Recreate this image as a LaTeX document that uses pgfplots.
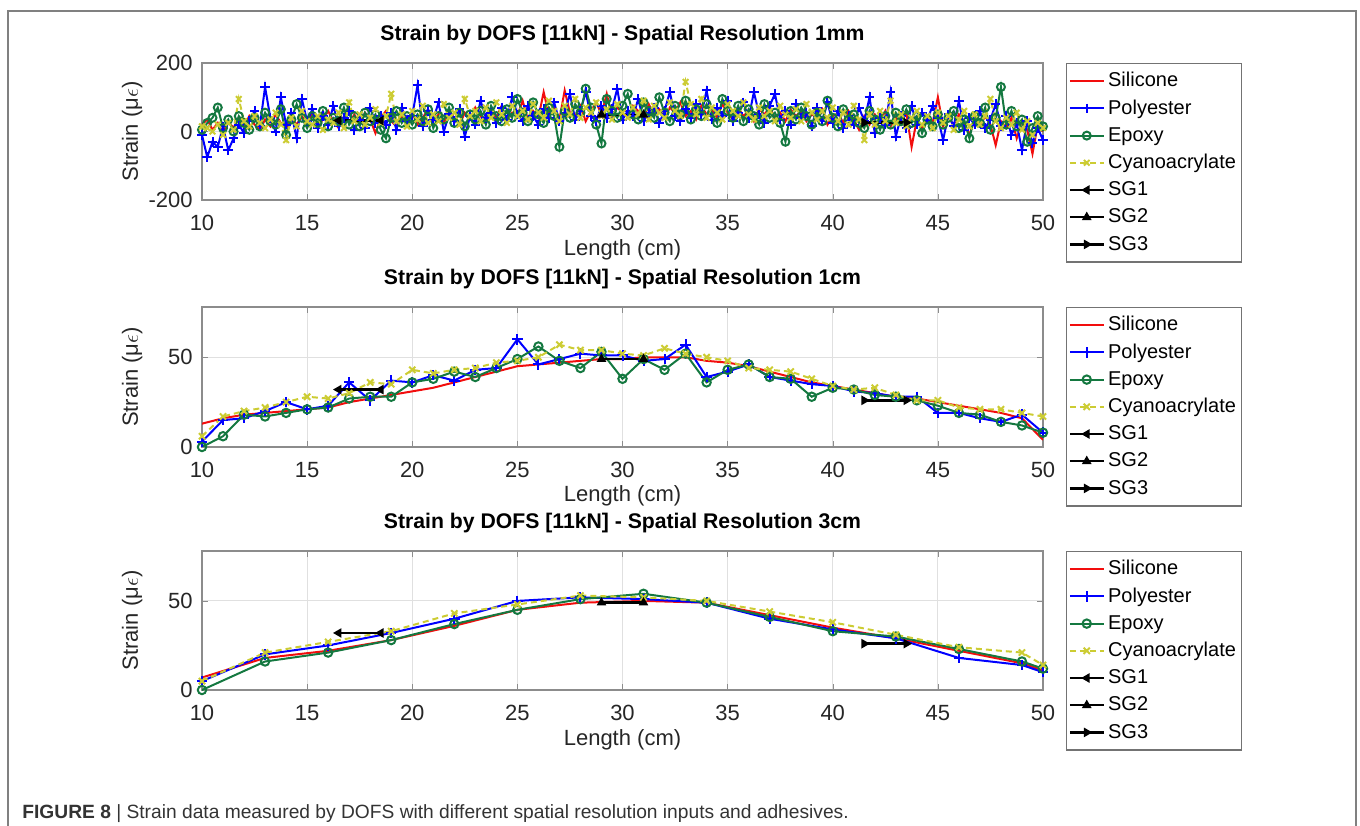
\documentclass[border=0pt]{standalone}
\usepackage{pgfplots}
\pgfplotsset{compat=1.18}
\usepackage{pgfplotstable}
\usepackage{fontspec}
\setmainfont{Liberation Sans}

\definecolor{csil}{rgb}{0.95,0.05,0.05}
\definecolor{cpol}{rgb}{0,0,1}
\definecolor{cepo}{rgb}{0.08,0.47,0.25}
\definecolor{ccya}{rgb}{0.80,0.80,0.20}
\definecolor{frm}{rgb}{0.50,0.50,0.50}

% 1mm resolution (read coarsely off the picture, every 2.5 mm)
\pgfplotstableread{
x s p e c
10.00 20 -10 5 15
10.25 35 -75 25 10
10.50 5 -30 40 0
10.75 25 -45 70 20
11.00 -5 15 10 -10
11.25 30 -55 35 25
11.50 10 -20 0 5
11.75 40 20 45 95
12.00 15 -5 25 30
12.25 45 30 5 15
12.50 20 60 40 45
12.75 5 15 15 25
13.00 35 130 55 10
13.25 15 40 30 35
13.50 50 0 20 55
13.75 25 100 65 20
14.00 10 20 -10 -25
14.25 40 55 35 40
14.50 20 -20 80 15
14.75 45 95 40 60
15.00 25 30 10 30
15.25 55 65 45 20
15.50 15 10 25 45
15.75 35 45 60 5
16.00 60 20 15 35
16.25 30 75 40 25
16.50 10 15 30 55
16.75 45 40 70 10
17.00 25 60 20 85
17.25 50 5 45 30
17.50 20 35 15 50
17.75 55 10 55 20
18.00 35 70 30 40
18.25 -5 25 50 65
18.50 40 45 5 25
18.75 60 20 -20 45
19.00 30 55 40 110
19.25 15 5 60 30
19.50 45 70 25 50
19.75 35 30 45 15
20.00 55 45 20 60
20.25 20 135 50 35
20.50 40 15 30 75
20.75 65 60 65 25
21.00 30 35 10 50
21.25 50 85 45 30
21.50 25 0 35 80
21.75 60 50 70 40
22.00 40 30 25 55
22.25 20 65 55 20
22.50 55 -15 15 95
22.75 35 45 50 45
23.00 70 20 35 60
23.25 45 90 60 30
23.50 25 40 20 70
23.75 60 55 75 40
24.00 40 25 45 85
24.25 75 70 30 50
24.50 30 35 65 25
24.75 55 100 40 75
25.00 45 50 95 45
25.25 90 30 55 60
25.50 35 75 30 35
25.75 60 45 85 80
26.00 40 20 50 55
26.25 115 65 25 40
26.50 50 40 70 90
26.75 70 85 45 60
27.00 35 30 -45 30
27.25 120 55 60 75
27.50 55 110 40 50
27.75 45 35 80 95
28.00 75 60 55 40
28.25 30 115 125 70
28.50 60 45 70 55
28.75 85 30 20 85
29.00 50 75 -35 45
29.25 110 40 95 65
29.50 45 65 60 35
29.75 70 125 40 80
30.00 55 35 75 55
30.25 40 60 110 40
30.50 75 45 50 70
30.75 60 95 35 50
31.00 35 30 85 90
31.25 80 55 60 35
31.50 50 70 40 75
31.75 65 25 100 55
32.00 40 60 55 40
32.25 70 115 30 85
32.50 55 45 75 60
32.75 85 30 50 45
33.00 45 65 90 145
33.25 60 40 35 80
33.50 35 80 65 50
33.75 75 50 45 95
34.00 50 120 80 40
34.25 65 35 55 70
34.50 40 70 25 55
34.75 80 45 95 35
35.00 55 90 60 80
35.25 35 30 40 60
35.50 70 55 75 45
35.75 45 85 30 85
36.00 60 40 65 50
36.25 30 115 45 35
36.50 65 50 20 70
36.75 50 25 80 45
37.00 70 75 40 60
37.25 40 110 55 30
37.50 55 35 25 75
37.75 30 60 -30 50
38.00 65 20 60 40
38.25 45 80 35 65
38.50 60 40 70 30
38.75 30 55 45 80
39.00 50 15 20 55
39.25 40 70 55 35
39.50 65 30 30 60
39.75 20 85 90 40
40.00 45 25 40 70
40.25 55 60 15 30
40.50 25 10 65 55
40.75 60 45 35 20
41.00 35 20 50 75
41.25 5 70 25 35
41.50 45 30 10 -25
41.75 20 100 60 50
42.00 50 -5 35 20
42.25 30 40 5 60
42.50 60 20 45 30
42.75 15 115 20 90
43.00 40 -15 55 25
43.25 25 45 30 50
43.50 55 10 65 15
43.75 -45 75 25 40
44.00 35 20 45 60
44.25 10 55 -5 20
44.50 45 35 35 45
44.75 25 75 15 10
45.00 100 40 50 55
45.25 15 -25 20 25
45.50 40 50 40 45
45.75 20 15 60 5
46.00 50 90 10 35
46.25 25 5 35 60
46.50 -10 40 -20 15
46.75 35 20 45 50
47.00 15 60 25 20
47.25 45 10 70 45
47.50 20 35 5 95
47.75 -40 80 40 30
48.00 30 15 130 10
48.25 10 45 20 40
48.50 40 -10 60 20
48.75 -20 25 15 55
49.00 25 -55 35 5
49.25 5 30 -30 30
49.50 -65 -35 10 -10
49.75 20 10 45 25
50.00 0 -25 15 10
}\mmdata

% 1cm resolution
\pgfplotstableread{
x s p e c
10 13 3 0 6
11 16 15 6 17
12 18 16 18 20
13 19 20 17 22
14 20 25 19 25
15 21 21 21 28
16 22 23 22 27
17 25 36 27 30
18 27 26 28 36
19 29 37 28 35
20 31 36 36 43
21 33 40 38 41
22 36 37 42 43
23 39 43 39 44
24 42 44 44 47
25 45 60 49 48
26 46 46 56 50
27 47 49 48 57
28 48 52 44 54
29 49 51 53 54
30 49 51 38 52
31 50 48 49 51
32 50 49 43 55
33 50 57 52 52
34 48 39 36 50
35 47 42 43 48
36 45 46 46 44
37 42 39 39 43
38 39 37 38 42
39 36 35 28 38
40 34 34 33 34
41 32 31 32 32
42 30 30 29 33
43 28 28 28 29
44 27 28 26 26
45 25 19 23 26
46 23 19 19 22
47 21 16 18 21
48 19 14 14 21
49 16 18 12 19
50 4 8 8 17
}\cmdata

% 3cm resolution
\pgfplotstableread{
x s p e c
10 7 5 0 5
13 18 20 16 21
16 22 25 21 27
19 28 32 28 33
22 36 40 37 43
25 45 50 45 48
28 49 52 51 53
31 50 51 54 52
34 49 49 49 50
37 42 40 41 44
40 35 34 33 38
43 29 29 30 31
46 22 18 23 24
49 15 14 16 21
50 11 10 12 14
}\tcmdata

\pgfplotsset{
  dofs/.style={
    scale only axis, width=420.5pt,
    xmin=10, xmax=50, xtick={10,15,...,50},
    grid=major, major grid style={black!12, line width=0.5pt},
    axis line style={black!45, line width=0.7pt},
    tick style={black!45}, major tick length=3pt,
    tick align=inside,
    /pgf/number format/assume math mode=true,
    ticklabel style={font=\fontsize{11pt}{13pt}\selectfont, text=black!85},
    xticklabel style={inner sep=0pt, yshift=-7.5pt},
    yticklabel style={inner sep=0pt, xshift=-4.5pt},
    xlabel={Length (cm)},
    xlabel style={font=\fontsize{11pt}{13pt}\selectfont, text=black!85,
      at={(axis description cs:0.5,0)}, anchor=base, yshift=-27.5pt},
    ylabel={Strain (μ$\epsilon$)},
    ylabel style={font=\fontsize{11pt}{13pt}\selectfont, text=black!85,
      at={(axis description cs:-0.083,0.5)}, anchor=center},
    title style={font=\bfseries\fontsize{10.6pt}{12pt}\selectfont,
      at={(axis description cs:0.5,1)}, anchor=base, yshift=5.5pt},
    legend style={at={(axis description cs:1.0273,1)}, anchor=north west,
      draw=black!55, line width=0.6pt, inner xsep=1pt, inner ysep=2pt,
      font=\fontsize{10pt}{12pt}\selectfont,
      nodes={text height=8pt, text depth=2.4pt, inner sep=1.6pt}},
    legend cell align=left,
    legend image code/.code={\draw[mark repeat=2, mark phase=2]
      plot coordinates {(0pt,0pt) (8.5pt,0pt) (17pt,0pt)};},
  },
  psil/.style={csil, line width=1pt, no marks},
  ppol/.style={cpol, line width=1pt, mark=+, mark size=2.6pt, mark options={solid, line width=1pt}},
  pepo/.style={cepo, line width=1pt, mark=o, mark size=2.1pt, mark options={solid, line width=1pt}},
  pcya/.style={ccya, line width=1pt, dash pattern=on 3pt off 2pt, mark=x, mark size=2.2pt, mark options={solid, line width=1pt}},
  psg/.style={black, line width=1.2pt, mark size=1.6pt, mark options={solid, fill=black}},
}

\begin{document}
\begin{tikzpicture}
\useasboundingbox (0,0) rectangle (680pt,-412.5pt);
\draw[frm, line width=1pt] (4pt,-420pt) -- (4pt,-5.5pt) -- (678pt,-5.5pt) -- (678pt,-420pt);

\begin{axis}[dofs, at={(101pt,-31.5pt)}, anchor=north west, height=68.5pt,
  ymin=-200, ymax=200, ytick={-200,0,200},
  title={Strain by DOFS [11kN] - Spatial Resolution 1mm}]
\addplot[psil] table[x=x, y=s] {\mmdata};
\addplot[ppol, mark size=2.4pt] table[x=x, y=p] {\mmdata};
\addplot[pepo, mark size=2pt] table[x=x, y=e] {\mmdata};
\addplot[pcya, mark size=2pt] table[x=x, y=c] {\mmdata};
\addplot[psg, mark=triangle*, mark options={rotate=90}] coordinates {(16.5,32) (18.5,32)};
\addplot[psg, mark=triangle*] coordinates {(29,49) (31,49)};
\addplot[psg, mark=triangle*, mark options={rotate=-90}] coordinates {(41.5,26) (43.5,26)};
\legend{Silicone,Polyester,Epoxy,Cyanoacrylate,SG1,SG2,SG3}
\end{axis}

\begin{axis}[dofs, at={(101pt,-153.5pt)}, anchor=north west, height=70pt,
  ymin=0, ymax=78, ytick={0,50},
  title={Strain by DOFS [11kN] - Spatial Resolution 1cm}]
\addplot[psil] table[x=x, y=s] {\cmdata};
\addplot[ppol] table[x=x, y=p] {\cmdata};
\addplot[pepo] table[x=x, y=e] {\cmdata};
\addplot[pcya] table[x=x, y=c] {\cmdata};
\addplot[psg, mark=triangle*, mark options={rotate=90}] coordinates {(16.5,32) (18.5,32)};
\addplot[psg, mark=triangle*] coordinates {(29,49) (31,49)};
\addplot[psg, mark=triangle*, mark options={rotate=-90}] coordinates {(41.5,26) (43.5,26)};
\legend{Silicone,Polyester,Epoxy,Cyanoacrylate,SG1,SG2,SG3}
\end{axis}

\begin{axis}[dofs, at={(101pt,-275.5pt)}, anchor=north west, height=69.5pt,
  ymin=0, ymax=78, ytick={0,50},
  title={Strain by DOFS [11kN] - Spatial Resolution 3cm}]
\addplot[psil] table[x=x, y=s] {\tcmdata};
\addplot[ppol] table[x=x, y=p] {\tcmdata};
\addplot[pepo] table[x=x, y=e] {\tcmdata};
\addplot[pcya] table[x=x, y=c] {\tcmdata};
\addplot[psg, mark=triangle*, mark options={rotate=90}] coordinates {(16.5,32) (18.5,32)};
\addplot[psg, mark=triangle*] coordinates {(29,49) (31,49)};
\addplot[psg, mark=triangle*, mark options={rotate=-90}] coordinates {(41.5,26) (43.5,26)};
\legend{Silicone,Polyester,Epoxy,Cyanoacrylate,SG1,SG2,SG3}
\end{axis}

\node[anchor=base west, inner sep=0pt, text=black!80,
  font=\fontsize{9.6pt}{11pt}\selectfont] at (11pt,-409pt)
  {\textbf{FIGURE 8} | Strain data measured by DOFS with different spatial resolution inputs and adhesives.};
\end{tikzpicture}
\end{document}
